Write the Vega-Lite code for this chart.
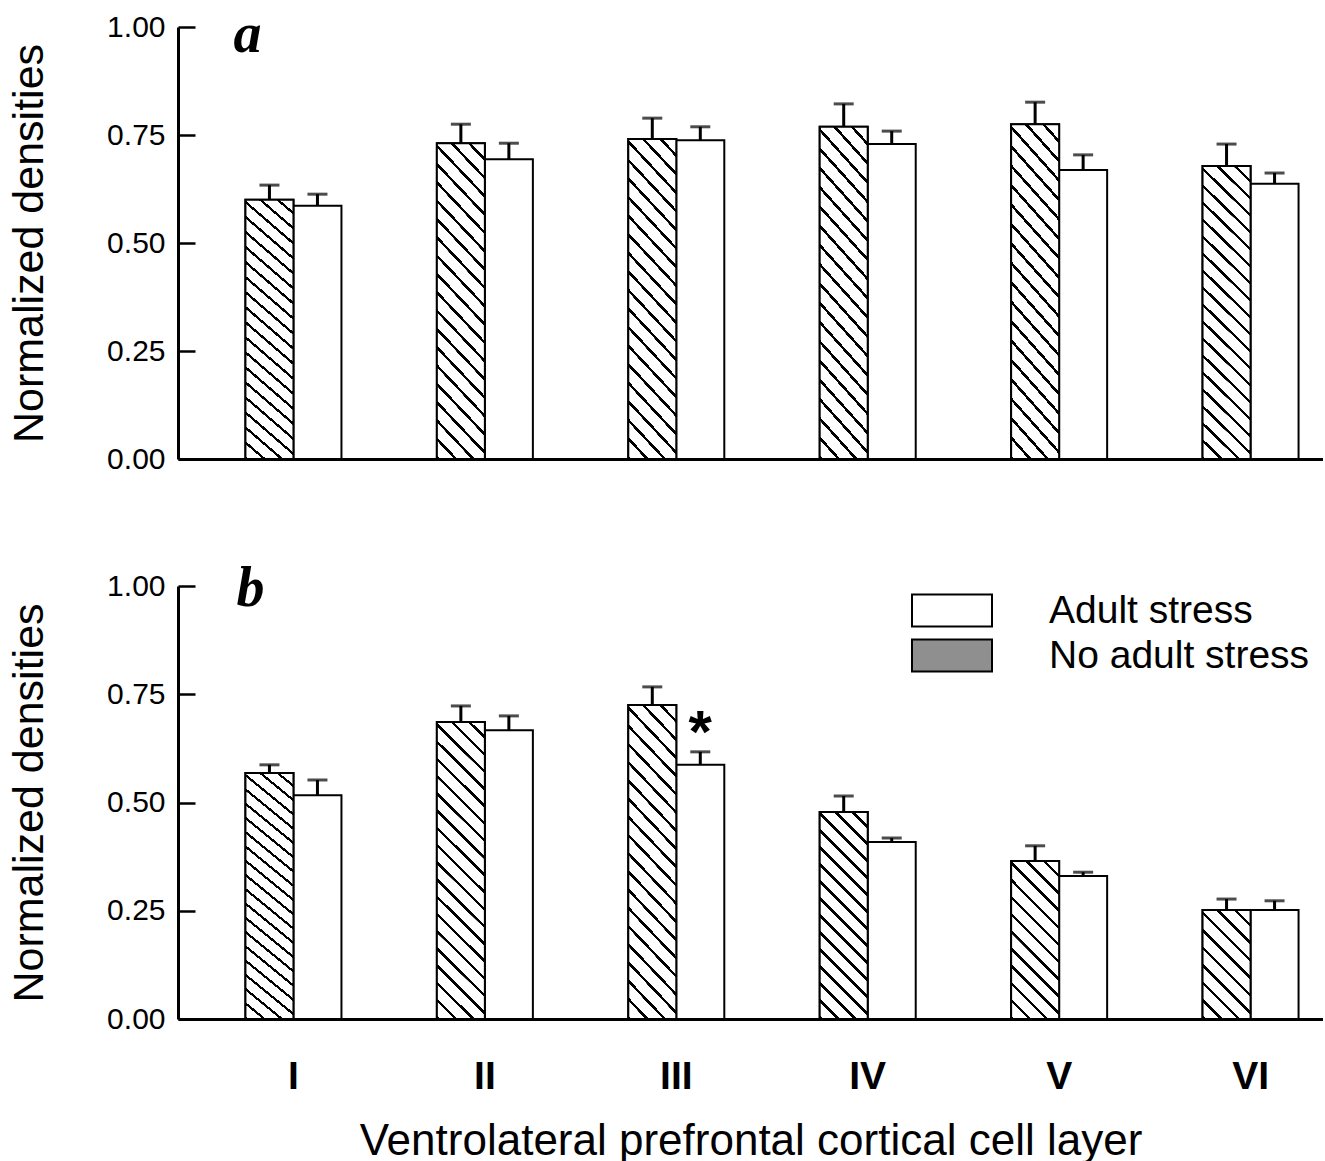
{
  "$schema": "https://vega.github.io/schema/vega-lite/v6.json",
  "background": "white",
  "padding": {"left": 8, "top": 7, "right": 0, "bottom": 0},
  "datasets": {
    "dens": [
      {"panel": "a", "layer": "I", "group": "No adult stress", "value": 0.600, "upper": 0.634, "sig": ""},
      {"panel": "a", "layer": "I", "group": "Adult stress", "value": 0.586, "upper": 0.613, "sig": ""},
      {"panel": "a", "layer": "II", "group": "No adult stress", "value": 0.731, "upper": 0.775, "sig": ""},
      {"panel": "a", "layer": "II", "group": "Adult stress", "value": 0.694, "upper": 0.731, "sig": ""},
      {"panel": "a", "layer": "III", "group": "No adult stress", "value": 0.741, "upper": 0.789, "sig": ""},
      {"panel": "a", "layer": "III", "group": "Adult stress", "value": 0.738, "upper": 0.769, "sig": ""},
      {"panel": "a", "layer": "IV", "group": "No adult stress", "value": 0.769, "upper": 0.822, "sig": ""},
      {"panel": "a", "layer": "IV", "group": "Adult stress", "value": 0.729, "upper": 0.759, "sig": ""},
      {"panel": "a", "layer": "V", "group": "No adult stress", "value": 0.775, "upper": 0.826, "sig": ""},
      {"panel": "a", "layer": "V", "group": "Adult stress", "value": 0.669, "upper": 0.704, "sig": ""},
      {"panel": "a", "layer": "VI", "group": "No adult stress", "value": 0.678, "upper": 0.729, "sig": ""},
      {"panel": "a", "layer": "VI", "group": "Adult stress", "value": 0.637, "upper": 0.662, "sig": ""},
      {"panel": "b", "layer": "I", "group": "No adult stress", "value": 0.568, "upper": 0.587, "sig": ""},
      {"panel": "b", "layer": "I", "group": "Adult stress", "value": 0.517, "upper": 0.552, "sig": ""},
      {"panel": "b", "layer": "II", "group": "No adult stress", "value": 0.686, "upper": 0.723, "sig": ""},
      {"panel": "b", "layer": "II", "group": "Adult stress", "value": 0.667, "upper": 0.700, "sig": ""},
      {"panel": "b", "layer": "III", "group": "No adult stress", "value": 0.725, "upper": 0.767, "sig": ""},
      {"panel": "b", "layer": "III", "group": "Adult stress", "value": 0.587, "upper": 0.617, "sig": "*"},
      {"panel": "b", "layer": "IV", "group": "No adult stress", "value": 0.478, "upper": 0.515, "sig": ""},
      {"panel": "b", "layer": "IV", "group": "Adult stress", "value": 0.409, "upper": 0.418, "sig": ""},
      {"panel": "b", "layer": "V", "group": "No adult stress", "value": 0.365, "upper": 0.400, "sig": ""},
      {"panel": "b", "layer": "V", "group": "Adult stress", "value": 0.330, "upper": 0.339, "sig": ""},
      {"panel": "b", "layer": "VI", "group": "No adult stress", "value": 0.252, "upper": 0.277, "sig": ""},
      {"panel": "b", "layer": "VI", "group": "Adult stress", "value": 0.252, "upper": 0.273, "sig": ""}
    ],
    "labels": [{"panel": "a", "label": "a", "layer": "I", "value": 1}, {"panel": "b", "label": "b", "layer": "I", "value": 1}]
  },
  "resolve": {"scale": {"fill": "independent"}, "legend": {"fill": "independent"}},
  "spacing": 87,
  "vconcat": [
    {
      "width": 1145,
      "height": 432,
      "encoding": {
        "x": {"field": "layer", "type": "nominal", "sort": ["I", "II", "III", "IV", "V", "VI"],
          "scale": {"paddingInner": 0.4984, "paddingOuter": 0.24, "align": 0.734, "round": false},
          "axis": {"labels": false, "ticks": false, "title": null, "domainWidth": 3}},
        "y": {"field": "value", "type": "quantitative", "scale": {"domain": [0, 1], "nice": false, "zero": true},
          "axis": {"values": [0, 0.25, 0.5, 0.75, 1], "format": ".2f", "title": "Normalized densities"}}
      },
      "layer": [
        {"data": {"name": "dens"}, "transform": [{"filter": "datum.panel === 'a'"}],
          "mark": {"type": "bar", "fill": "white", "stroke": "black", "strokeWidth": 2},
          "encoding": {"xOffset": {"field": "group", "type": "nominal", "scale": {"domain": ["No adult stress", "Adult stress"], "paddingInner": 0, "paddingOuter": 0}}}},
        {"data": {"name": "dens"}, "transform": [{"filter": "datum.panel === 'a' && datum.group === 'No adult stress'"}],
          "mark": {"type": "bar", "stroke": "black", "strokeWidth": 2,
            "fill": {"gradient": "linear", "x1": 0, "y1": 1, "x2": 0.181, "y2": -0.131, "stops": [
{"offset":0,"color":"black"},{"offset":0.01,"color":"black"},{"offset":0.01,"color":"white"},{"offset":0.0497,"color":"white"},
{"offset":0.05,"color":"black"},{"offset":0.06,"color":"black"},{"offset":0.06,"color":"white"},{"offset":0.0997,"color":"white"},
{"offset":0.1,"color":"black"},{"offset":0.11,"color":"black"},{"offset":0.11,"color":"white"},{"offset":0.1497,"color":"white"},
{"offset":0.15,"color":"black"},{"offset":0.16,"color":"black"},{"offset":0.16,"color":"white"},{"offset":0.1997,"color":"white"},
{"offset":0.2,"color":"black"},{"offset":0.21,"color":"black"},{"offset":0.21,"color":"white"},{"offset":0.2497,"color":"white"},
{"offset":0.25,"color":"black"},{"offset":0.26,"color":"black"},{"offset":0.26,"color":"white"},{"offset":0.2997,"color":"white"},
{"offset":0.3,"color":"black"},{"offset":0.31,"color":"black"},{"offset":0.31,"color":"white"},{"offset":0.3497,"color":"white"},
{"offset":0.35,"color":"black"},{"offset":0.36,"color":"black"},{"offset":0.36,"color":"white"},{"offset":0.3997,"color":"white"},
{"offset":0.4,"color":"black"},{"offset":0.41,"color":"black"},{"offset":0.41,"color":"white"},{"offset":0.4497,"color":"white"},
{"offset":0.45,"color":"black"},{"offset":0.46,"color":"black"},{"offset":0.46,"color":"white"},{"offset":0.4997,"color":"white"},
{"offset":0.5,"color":"black"},{"offset":0.51,"color":"black"},{"offset":0.51,"color":"white"},{"offset":0.5497,"color":"white"},
{"offset":0.55,"color":"black"},{"offset":0.56,"color":"black"},{"offset":0.56,"color":"white"},{"offset":0.5997,"color":"white"},
{"offset":0.6,"color":"black"},{"offset":0.61,"color":"black"},{"offset":0.61,"color":"white"},{"offset":0.6497,"color":"white"},
{"offset":0.65,"color":"black"},{"offset":0.66,"color":"black"},{"offset":0.66,"color":"white"},{"offset":0.6997,"color":"white"},
{"offset":0.7,"color":"black"},{"offset":0.71,"color":"black"},{"offset":0.71,"color":"white"},{"offset":0.7497,"color":"white"},
{"offset":0.75,"color":"black"},{"offset":0.76,"color":"black"},{"offset":0.76,"color":"white"},{"offset":0.7997,"color":"white"},
{"offset":0.8,"color":"black"},{"offset":0.81,"color":"black"},{"offset":0.81,"color":"white"},{"offset":0.8497,"color":"white"},
{"offset":0.85,"color":"black"},{"offset":0.86,"color":"black"},{"offset":0.86,"color":"white"},{"offset":0.8997,"color":"white"},
{"offset":0.9,"color":"black"},{"offset":0.91,"color":"black"},{"offset":0.91,"color":"white"},{"offset":0.9497,"color":"white"},
{"offset":0.95,"color":"black"},{"offset":0.96,"color":"black"},{"offset":0.96,"color":"white"},{"offset":1,"color":"white"}
            ]}},
          "encoding": {"xOffset": {"field": "group", "type": "nominal", "scale": {"domain": ["No adult stress", "Adult stress"], "paddingInner": 0, "paddingOuter": 0}}}},
        {"data": {"name": "dens"}, "transform": [{"filter": "datum.panel === 'a'"}],
          "mark": {"type": "rule", "color": "black", "strokeWidth": 3},
          "encoding": {"xOffset": {"field": "group", "type": "nominal"}, "y2": {"field": "upper"}}},
        {"data": {"name": "dens"}, "transform": [{"filter": "datum.panel === 'a'"}],
          "mark": {"type": "tick", "color": "black", "thickness": 3, "size": 20, "orient": "horizontal"},
          "encoding": {"xOffset": {"field": "group", "type": "nominal"}, "y": {"field": "upper", "type": "quantitative"}}},
        {"data": {"name": "labels"}, "transform": [{"filter": "datum.panel === 'a'"}],
          "mark": {"type": "text", "font": "Liberation Serif", "fontSize": 56, "fontStyle": "italic", "fontWeight": "bold", "color": "black", "align": "left", "baseline": "alphabetic", "dx": -60, "dy": 25},
          "encoding": {"text": {"field": "label", "type": "nominal"}}}
      ]
    },
    {
      "width": 1145,
      "height": 433,
      "encoding": {
        "x": {"field": "layer", "type": "nominal", "sort": ["I", "II", "III", "IV", "V", "VI"],
          "scale": {"paddingInner": 0.4984, "paddingOuter": 0.24, "align": 0.734, "round": false},
          "axis": {"ticks": false, "labelAngle": 0, "labelFontSize": 39, "labelFontWeight": "bold", "labelPadding": 38, "domainWidth": 3,
            "title": "Ventrolateral prefrontal cortical cell layer", "titleFontSize": 44, "titleFontWeight": "normal", "titlePadding": 23}},
        "y": {"field": "value", "type": "quantitative", "scale": {"domain": [0, 1], "nice": false, "zero": true},
          "axis": {"values": [0, 0.25, 0.5, 0.75, 1], "format": ".2f", "title": "Normalized densities"}}
      },
      "layer": [
        {"data": {"name": "dens"}, "transform": [{"filter": "datum.panel === 'b'"}],
          "mark": {"type": "bar", "stroke": "black", "strokeWidth": 2},
          "encoding": {"xOffset": {"field": "group", "type": "nominal", "scale": {"domain": ["No adult stress", "Adult stress"], "paddingInner": 0, "paddingOuter": 0}},
            "fill": {"field": "group", "type": "nominal",
            "scale": {"domain": ["Adult stress", "No adult stress"], "range": ["white", "#8f8f8f"]},
            "legend": {"title": null, "orient": "none", "legendX": 733, "legendY": 2, "direction": "vertical",
              "symbolType": "M-1,-0.4H1V0.4H-1Z", "symbolSize": 6400, "symbolStrokeColor": "black", "symbolStrokeWidth": 2, "symbolOpacity": 1,
              "labelFont": "Liberation Sans", "labelFontSize": 39, "labelColor": "black", "labelOffset": 56, "rowPadding": 0, "clipHeight": 45, "labelLimit": 400}}}},
        {"data": {"name": "dens"}, "transform": [{"filter": "datum.panel === 'b' && datum.group === 'No adult stress' && indexof(['I','II','III'], datum.layer) >= 0"}],
          "mark": {"type": "bar", "stroke": "black", "strokeWidth": 2,
            "fill": {"gradient": "linear", "x1": 0, "y1": 1, "x2": 0.181, "y2": -0.131, "stops": [
{"offset":0,"color":"black"},{"offset":0.01,"color":"black"},{"offset":0.01,"color":"white"},{"offset":0.0497,"color":"white"},
{"offset":0.05,"color":"black"},{"offset":0.06,"color":"black"},{"offset":0.06,"color":"white"},{"offset":0.0997,"color":"white"},
{"offset":0.1,"color":"black"},{"offset":0.11,"color":"black"},{"offset":0.11,"color":"white"},{"offset":0.1497,"color":"white"},
{"offset":0.15,"color":"black"},{"offset":0.16,"color":"black"},{"offset":0.16,"color":"white"},{"offset":0.1997,"color":"white"},
{"offset":0.2,"color":"black"},{"offset":0.21,"color":"black"},{"offset":0.21,"color":"white"},{"offset":0.2497,"color":"white"},
{"offset":0.25,"color":"black"},{"offset":0.26,"color":"black"},{"offset":0.26,"color":"white"},{"offset":0.2997,"color":"white"},
{"offset":0.3,"color":"black"},{"offset":0.31,"color":"black"},{"offset":0.31,"color":"white"},{"offset":0.3497,"color":"white"},
{"offset":0.35,"color":"black"},{"offset":0.36,"color":"black"},{"offset":0.36,"color":"white"},{"offset":0.3997,"color":"white"},
{"offset":0.4,"color":"black"},{"offset":0.41,"color":"black"},{"offset":0.41,"color":"white"},{"offset":0.4497,"color":"white"},
{"offset":0.45,"color":"black"},{"offset":0.46,"color":"black"},{"offset":0.46,"color":"white"},{"offset":0.4997,"color":"white"},
{"offset":0.5,"color":"black"},{"offset":0.51,"color":"black"},{"offset":0.51,"color":"white"},{"offset":0.5497,"color":"white"},
{"offset":0.55,"color":"black"},{"offset":0.56,"color":"black"},{"offset":0.56,"color":"white"},{"offset":0.5997,"color":"white"},
{"offset":0.6,"color":"black"},{"offset":0.61,"color":"black"},{"offset":0.61,"color":"white"},{"offset":0.6497,"color":"white"},
{"offset":0.65,"color":"black"},{"offset":0.66,"color":"black"},{"offset":0.66,"color":"white"},{"offset":0.6997,"color":"white"},
{"offset":0.7,"color":"black"},{"offset":0.71,"color":"black"},{"offset":0.71,"color":"white"},{"offset":0.7497,"color":"white"},
{"offset":0.75,"color":"black"},{"offset":0.76,"color":"black"},{"offset":0.76,"color":"white"},{"offset":0.7997,"color":"white"},
{"offset":0.8,"color":"black"},{"offset":0.81,"color":"black"},{"offset":0.81,"color":"white"},{"offset":0.8497,"color":"white"},
{"offset":0.85,"color":"black"},{"offset":0.86,"color":"black"},{"offset":0.86,"color":"white"},{"offset":0.8997,"color":"white"},
{"offset":0.9,"color":"black"},{"offset":0.91,"color":"black"},{"offset":0.91,"color":"white"},{"offset":0.9497,"color":"white"},
{"offset":0.95,"color":"black"},{"offset":0.96,"color":"black"},{"offset":0.96,"color":"white"},{"offset":1,"color":"white"}
            ]}},
          "encoding": {"xOffset": {"field": "group", "type": "nominal", "scale": {"domain": ["No adult stress", "Adult stress"], "paddingInner": 0, "paddingOuter": 0}}}},
        {"data": {"name": "dens"}, "transform": [{"filter": "datum.panel === 'b' && datum.group === 'No adult stress' && datum.layer === 'IV'"}],
          "mark": {"type": "bar", "stroke": "black", "strokeWidth": 2,
            "fill": {"gradient": "linear", "x1": 0, "y1": 1, "x2": 0.271, "y2": -0.169, "stops": [
{"offset":0,"color":"black"},{"offset":0.0133,"color":"black"},{"offset":0.0133,"color":"white"},{"offset":0.0664,"color":"white"},
{"offset":0.0667,"color":"black"},{"offset":0.08,"color":"black"},{"offset":0.08,"color":"white"},{"offset":0.133,"color":"white"},
{"offset":0.1333,"color":"black"},{"offset":0.1466,"color":"black"},{"offset":0.1466,"color":"white"},{"offset":0.1997,"color":"white"},
{"offset":0.2,"color":"black"},{"offset":0.2133,"color":"black"},{"offset":0.2133,"color":"white"},{"offset":0.2664,"color":"white"},
{"offset":0.2667,"color":"black"},{"offset":0.28,"color":"black"},{"offset":0.28,"color":"white"},{"offset":0.333,"color":"white"},
{"offset":0.3333,"color":"black"},{"offset":0.3466,"color":"black"},{"offset":0.3466,"color":"white"},{"offset":0.3997,"color":"white"},
{"offset":0.4,"color":"black"},{"offset":0.4133,"color":"black"},{"offset":0.4133,"color":"white"},{"offset":0.4664,"color":"white"},
{"offset":0.4667,"color":"black"},{"offset":0.48,"color":"black"},{"offset":0.48,"color":"white"},{"offset":0.533,"color":"white"},
{"offset":0.5333,"color":"black"},{"offset":0.5466,"color":"black"},{"offset":0.5466,"color":"white"},{"offset":0.5997,"color":"white"},
{"offset":0.6,"color":"black"},{"offset":0.6133,"color":"black"},{"offset":0.6133,"color":"white"},{"offset":0.6664,"color":"white"},
{"offset":0.6667,"color":"black"},{"offset":0.68,"color":"black"},{"offset":0.68,"color":"white"},{"offset":0.733,"color":"white"},
{"offset":0.7333,"color":"black"},{"offset":0.7466,"color":"black"},{"offset":0.7466,"color":"white"},{"offset":0.7997,"color":"white"},
{"offset":0.8,"color":"black"},{"offset":0.8133,"color":"black"},{"offset":0.8133,"color":"white"},{"offset":0.8664,"color":"white"},
{"offset":0.8667,"color":"black"},{"offset":0.88,"color":"black"},{"offset":0.88,"color":"white"},{"offset":0.933,"color":"white"},
{"offset":0.9333,"color":"black"},{"offset":0.9466,"color":"black"},{"offset":0.9466,"color":"white"},{"offset":1,"color":"white"}
            ]}},
          "encoding": {"xOffset": {"field": "group", "type": "nominal", "scale": {"domain": ["No adult stress", "Adult stress"], "paddingInner": 0, "paddingOuter": 0}}}},
        {"data": {"name": "dens"}, "transform": [{"filter": "datum.panel === 'b' && datum.group === 'No adult stress' && datum.layer === 'V'"}],
          "mark": {"type": "bar", "stroke": "black", "strokeWidth": 2,
            "fill": {"gradient": "linear", "x1": 0, "y1": 1, "x2": 0.363, "y2": -0.194, "stops": [
{"offset":0,"color":"black"},{"offset":0.0167,"color":"black"},{"offset":0.0167,"color":"white"},{"offset":0.083,"color":"white"},
{"offset":0.0833,"color":"black"},{"offset":0.1,"color":"black"},{"offset":0.1,"color":"white"},{"offset":0.1664,"color":"white"},
{"offset":0.1667,"color":"black"},{"offset":0.1834,"color":"black"},{"offset":0.1834,"color":"white"},{"offset":0.2497,"color":"white"},
{"offset":0.25,"color":"black"},{"offset":0.2667,"color":"black"},{"offset":0.2667,"color":"white"},{"offset":0.333,"color":"white"},
{"offset":0.3333,"color":"black"},{"offset":0.35,"color":"black"},{"offset":0.35,"color":"white"},{"offset":0.4164,"color":"white"},
{"offset":0.4167,"color":"black"},{"offset":0.4334,"color":"black"},{"offset":0.4334,"color":"white"},{"offset":0.4997,"color":"white"},
{"offset":0.5,"color":"black"},{"offset":0.5167,"color":"black"},{"offset":0.5167,"color":"white"},{"offset":0.583,"color":"white"},
{"offset":0.5833,"color":"black"},{"offset":0.6,"color":"black"},{"offset":0.6,"color":"white"},{"offset":0.6664,"color":"white"},
{"offset":0.6667,"color":"black"},{"offset":0.6834,"color":"black"},{"offset":0.6834,"color":"white"},{"offset":0.7497,"color":"white"},
{"offset":0.75,"color":"black"},{"offset":0.7667,"color":"black"},{"offset":0.7667,"color":"white"},{"offset":0.833,"color":"white"},
{"offset":0.8333,"color":"black"},{"offset":0.85,"color":"black"},{"offset":0.85,"color":"white"},{"offset":0.9164,"color":"white"},
{"offset":0.9167,"color":"black"},{"offset":0.9334,"color":"black"},{"offset":0.9334,"color":"white"},{"offset":1,"color":"white"}
            ]}},
          "encoding": {"xOffset": {"field": "group", "type": "nominal", "scale": {"domain": ["No adult stress", "Adult stress"], "paddingInner": 0, "paddingOuter": 0}}}},
        {"data": {"name": "dens"}, "transform": [{"filter": "datum.panel === 'b' && datum.group === 'No adult stress' && datum.layer === 'VI'"}],
          "mark": {"type": "bar", "stroke": "black", "strokeWidth": 2,
            "fill": {"gradient": "linear", "x1": 0, "y1": 1, "x2": 0.531, "y2": -0.206, "stops": [
{"offset":0,"color":"black"},{"offset":0.0222,"color":"black"},{"offset":0.0222,"color":"white"},{"offset":0.1108,"color":"white"},
{"offset":0.1111,"color":"black"},{"offset":0.1333,"color":"black"},{"offset":0.1333,"color":"white"},{"offset":0.2219,"color":"white"},
{"offset":0.2222,"color":"black"},{"offset":0.2444,"color":"black"},{"offset":0.2444,"color":"white"},{"offset":0.333,"color":"white"},
{"offset":0.3333,"color":"black"},{"offset":0.3555,"color":"black"},{"offset":0.3555,"color":"white"},{"offset":0.4441,"color":"white"},
{"offset":0.4444,"color":"black"},{"offset":0.4666,"color":"black"},{"offset":0.4666,"color":"white"},{"offset":0.5553,"color":"white"},
{"offset":0.5556,"color":"black"},{"offset":0.5778,"color":"black"},{"offset":0.5778,"color":"white"},{"offset":0.6664,"color":"white"},
{"offset":0.6667,"color":"black"},{"offset":0.6889,"color":"black"},{"offset":0.6889,"color":"white"},{"offset":0.7775,"color":"white"},
{"offset":0.7778,"color":"black"},{"offset":0.8,"color":"black"},{"offset":0.8,"color":"white"},{"offset":0.8886,"color":"white"},
{"offset":0.8889,"color":"black"},{"offset":0.9111,"color":"black"},{"offset":0.9111,"color":"white"},{"offset":1,"color":"white"}
            ]}},
          "encoding": {"xOffset": {"field": "group", "type": "nominal", "scale": {"domain": ["No adult stress", "Adult stress"], "paddingInner": 0, "paddingOuter": 0}}}},
        {"data": {"name": "dens"}, "transform": [{"filter": "datum.panel === 'b'"}],
          "mark": {"type": "rule", "color": "black", "strokeWidth": 3},
          "encoding": {"xOffset": {"field": "group", "type": "nominal"}, "y2": {"field": "upper"}}},
        {"data": {"name": "dens"}, "transform": [{"filter": "datum.panel === 'b'"}],
          "mark": {"type": "tick", "color": "black", "thickness": 3, "size": 20, "orient": "horizontal"},
          "encoding": {"xOffset": {"field": "group", "type": "nominal"}, "y": {"field": "upper", "type": "quantitative"}}},
        {"data": {"name": "dens"}, "transform": [{"filter": "datum.panel === 'b' && datum.sig !== ''"}],
          "mark": {"type": "text", "font": "Liberation Sans", "fontSize": 60, "fontWeight": "bold", "color": "black", "baseline": "alphabetic", "align": "center", "dy": 0},
          "encoding": {"xOffset": {"field": "group", "type": "nominal"}, "y": {"field": "upper", "type": "quantitative"}, "text": {"field": "sig"}}},
        {"data": {"name": "labels"}, "transform": [{"filter": "datum.panel === 'b'"}],
          "mark": {"type": "text", "font": "Liberation Serif", "fontSize": 56, "fontStyle": "italic", "fontWeight": "bold", "color": "black", "align": "left", "baseline": "alphabetic", "dx": -57, "dy": 20},
          "encoding": {"text": {"field": "label", "type": "nominal"}}}
      ]
    }
  ],
  "config": {
    "view": {"stroke": null},
    "font": "Liberation Sans",
    "axis": {"grid": false, "domainColor": "black", "tickColor": "black", "labelColor": "black", "titleColor": "black",
      "labelFont": "Liberation Sans", "titleFont": "Liberation Sans"},
    "axisY": {"tickSize": -17, "tickWidth": 2.5, "domainWidth": 3, "labelFontSize": 30, "labelPadding": 30, "titleFontSize": 43, "titleFontWeight": "normal", "titlePadding": 55}
  }
}
